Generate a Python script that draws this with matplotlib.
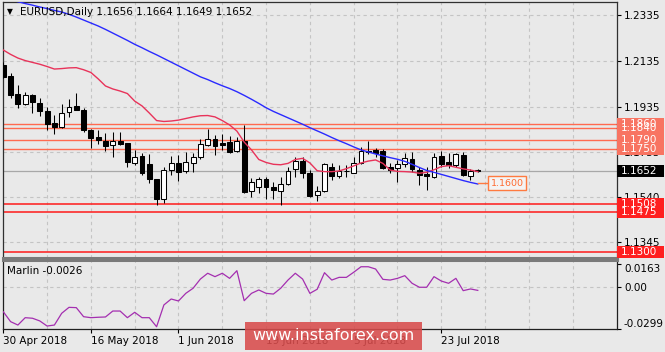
import numpy as np
import matplotlib
matplotlib.use("Agg")
import matplotlib.pyplot as plt
from matplotlib.patches import Rectangle
from matplotlib.transforms import blended_transform_factory

"""""""""""""""""""""""""""""""""""""""""""""""""""""""""
: DataSet
"""""""""""""""""""""""""""""""""""""""""""""""""""""""""
date_labels = ["30 Apr 2018", "16 May 2018", "1 Jun 2018", "19 Jun 2018", "5 Jul 2018", "23 Jul 2018"]
date_bars = [0, 12, 24, 36, 48, 60]

opens = [1.2117, 1.2069, 1.1989, 1.1946, 1.1986, 1.1952, 1.1916, 1.1862, 1.1845, 1.1910,
         1.1939, 1.1920, 1.1833, 1.1804, 1.1785, 1.1767, 1.1785, 1.1775, 1.1687, 1.1719,
         1.1684, 1.1618, 1.1531, 1.1658, 1.1690, 1.1655, 1.1690, 1.1714, 1.1767, 1.1792,
         1.1777, 1.1782, 1.1742, 1.1785, 1.1568, 1.1585, 1.1618, 1.1585, 1.1568, 1.1597,
         1.1661, 1.1699, 1.1644, 1.1549, 1.1566, 1.1670, 1.1632, 1.1654, 1.1646, 1.1687,
         1.1742, 1.1746, 1.1742, 1.1673, 1.1666, 1.1684, 1.1705, 1.1658, 1.1639, 1.1629,
         1.1721, 1.1692, 1.1680, 1.1724, 1.1633, 1.1656]
highs = [1.2131, 1.2082, 1.2029, 1.1997, 1.1989, 1.1974, 1.1935, 1.1898, 1.1945, 1.1968,
         1.1993, 1.1930, 1.1835, 1.1833, 1.1818, 1.1825, 1.1825, 1.1777, 1.1746, 1.1731,
         1.1728, 1.1620, 1.1673, 1.1719, 1.1724, 1.1738, 1.1731, 1.1792, 1.1836, 1.1811,
         1.1815, 1.1807, 1.1804, 1.1855, 1.1622, 1.1629, 1.1629, 1.1607, 1.1629, 1.1673,
         1.1716, 1.1714, 1.1658, 1.1588, 1.1690, 1.1687, 1.1680, 1.1680, 1.1716, 1.1757,
         1.1786, 1.1753, 1.1749, 1.1687, 1.1702, 1.1734, 1.1738, 1.1673, 1.1673, 1.1731,
         1.1742, 1.1734, 1.1734, 1.1738, 1.1661, 1.1664]
lows = [1.2060, 1.1973, 1.1930, 1.1942, 1.1908, 1.1894, 1.1833, 1.1815, 1.1840, 1.1891,
        1.1918, 1.1825, 1.1756, 1.1770, 1.1741, 1.1714, 1.1767, 1.1670, 1.1680, 1.1636,
        1.1603, 1.1505, 1.1513, 1.1636, 1.1611, 1.1646, 1.1648, 1.1705, 1.1765, 1.1724,
        1.1746, 1.1731, 1.1737, 1.1558, 1.1539, 1.1556, 1.1530, 1.1530, 1.1505, 1.1593,
        1.1629, 1.1622, 1.1539, 1.1524, 1.1563, 1.1614, 1.1622, 1.1629, 1.1644, 1.1685,
        1.1728, 1.1716, 1.1661, 1.1644, 1.1607, 1.1673, 1.1651, 1.1593, 1.1571, 1.1622,
        1.1673, 1.1666, 1.1673, 1.1632, 1.1614, 1.1649]
closes = [1.2066, 1.1986, 1.1945, 1.1986, 1.1956, 1.1916, 1.1859, 1.1847, 1.1908, 1.1935,
          1.1920, 1.1833, 1.1799, 1.1789, 1.1764, 1.1786, 1.1772, 1.1691, 1.1714, 1.1644,
          1.1618, 1.1531, 1.1658, 1.1690, 1.1651, 1.1694, 1.1716, 1.1772, 1.1792, 1.1763,
          1.1767, 1.1738, 1.1786, 1.1562, 1.1607, 1.1618, 1.1585, 1.1571, 1.1597, 1.1654,
          1.1699, 1.1644, 1.1545, 1.1566, 1.1683, 1.1632, 1.1654, 1.1655, 1.1687, 1.1742,
          1.1738, 1.1731, 1.1666, 1.1658, 1.1684, 1.1709, 1.1661, 1.1636, 1.1632, 1.1716,
          1.1684, 1.1680, 1.1727, 1.1636, 1.1654, 1.1652]

ma_red = [1.2182, 1.2163, 1.2147, 1.2136, 1.2128, 1.2120, 1.2110, 1.2099, 1.2101, 1.2104,
          1.2105, 1.2096, 1.2084, 1.2056, 1.2025, 1.2012, 1.2003, 1.1992, 1.1959, 1.1938,
          1.1907, 1.1874, 1.1870, 1.1872, 1.1876, 1.1883, 1.1890, 1.1895, 1.1896, 1.1890,
          1.1874, 1.1855, 1.1828, 1.1780, 1.1746, 1.1704, 1.1691, 1.1683, 1.1681, 1.1687,
          1.1704, 1.1709, 1.1689, 1.1655, 1.1651, 1.1651, 1.1654, 1.1664, 1.1676, 1.1689,
          1.1697, 1.1702, 1.1687, 1.1658, 1.1652, 1.1651, 1.1649, 1.1644, 1.1648, 1.1659,
          1.1673, 1.1677, 1.1670, 1.1663, 1.1658, 1.1651]
ma_blue = [1.2408, 1.2401, 1.2393, 1.2385, 1.2378, 1.2370, 1.2363, 1.2355, 1.2348, 1.2338,
           1.2326, 1.2313, 1.2300, 1.2287, 1.2272, 1.2256, 1.2240, 1.2224, 1.2207, 1.2192,
           1.2176, 1.2161, 1.2145, 1.2129, 1.2113, 1.2097, 1.2081, 1.2065, 1.2053, 1.2039,
           1.2026, 1.2014, 1.2000, 1.1984, 1.1967, 1.1949, 1.1930, 1.1914, 1.1900, 1.1886,
           1.1872, 1.1858, 1.1843, 1.1829, 1.1815, 1.1800, 1.1786, 1.1773, 1.1759, 1.1746,
           1.1737, 1.1728, 1.1720, 1.1712, 1.1705, 1.1696, 1.1683, 1.1669, 1.1656, 1.1648,
           1.1639, 1.1630, 1.1621, 1.1612, 1.1604, 1.1597]
marlin = [-0.0177, -0.0247, -0.0271, -0.0219, -0.0223, -0.0242, -0.0278, -0.0271, -0.0188, -0.0146,
          -0.0148, -0.0212, -0.0219, -0.0216, -0.0214, -0.0172, -0.0172, -0.0219, -0.0181, -0.0219,
          -0.0219, -0.0283, -0.0129, -0.0087, -0.0101, -0.0047, -0.0011, 0.0054, 0.0095, 0.0071,
          0.0095, 0.0059, 0.0113, -0.0099, -0.0047, -0.0023, -0.0047, -0.0052, -0.0011, 0.0047,
          0.0095, 0.0054, -0.0047, -0.0018, 0.0099, 0.0047, 0.0066, 0.0066, 0.0102, 0.0141,
          0.0141, 0.0125, 0.0052, 0.0047, 0.0059, 0.0078, 0.0024, -0.0004, -0.0004, 0.0071,
          0.0040, 0.0024, 0.0059, -0.0028, -0.0016, -0.0026]

levels_upper = [1.1750, 1.1840, 1.1790, 1.1860]
levels_lower = [1.1475, 1.1300, 1.1508]
price_ticks = [1.2335, 1.2135, 1.1935, 1.1735, 1.1540, 1.1345]
marlin_ticks = [0.0163, 0.0, -0.0299]
last_price = 1.1652
target_price = 1.1600

"""""""""""""""""""""""""""""""""""""""""""""""""""""""""
: Plottings
"""""""""""""""""""""""""""""""""""""""""""""""""""""""""
bg = "#e9e9e9"
fs = 7.5
W, H = 665.0, 352.0

fig = plt.figure(figsize=(6.65, 3.52), dpi=100, facecolor=bg)
ax = fig.add_axes([3 / W, 1 - 258 / H, 614 / W, 256 / H], facecolor=bg)
ax2 = fig.add_axes([3 / W, 1 - 329 / H, 614 / W, 69 / H], facecolor=bg)

n = len(opens)
x = np.arange(n)
o, h, l, c = map(np.array, (opens, highs, lows, closes))
up = c >= o

# candles
ax.vlines(x, l, h, color="black", lw=0.75, zorder=3)
body_lo = np.minimum(o, c)
body_h = np.maximum(np.abs(c - o), 0.00005)
ax.bar(x, body_h, bottom=body_lo, width=0.66, color=np.where(up, "white", "black"),
       edgecolor="black", lw=0.75, zorder=4)

ax.plot(x, ma_red, color="#e8335a", lw=1.0, zorder=5)
ax.plot(x, ma_blue, color="#2a2aff", lw=1.0, zorder=5)

# levels
for lv in levels_upper:
    ax.axhline(lv, color="#ff6a50", lw=1.0, zorder=1)
for lv in levels_lower:
    ax.axhline(lv, color="#ff1a1a", lw=1.1, zorder=1)
ax.axhline(last_price, color="#a8a8a8", lw=0.9, zorder=1)

# grid
for gx in range(6, 84, 6):
    ax.axvline(gx, color="#c4c4c4", lw=0.8, ls=(0, (3, 3)), zorder=0)
    ax2.axvline(gx, color="#c4c4c4", lw=0.8, ls=(0, (3, 3)), zorder=0)
for gy in price_ticks:
    ax.axhline(gy, color="#c4c4c4", lw=0.8, ls=(0, (3, 3)), zorder=0)
ax2.axhline(0.0, color="#c4c4c4", lw=0.8, ls=(0, (3, 3)), zorder=0)

px_per_price = 1 / 0.0004367
ax.set_xlim(-0.04, 84.07)
ax.set_ylim(1.2335 - 243 / px_per_price, 1.2335 + 13 / px_per_price)

ax.yaxis.tick_right()
ax.set_yticks(price_ticks)
ax.set_yticklabels(["%.4f" % t for t in price_ticks])
ax.tick_params(axis="y", length=3, width=0.8, pad=2, labelsize=fs, colors="black")
ax.set_xticks([])

# right side price boxes
tr = blended_transform_factory(ax.transAxes, ax.transData)
box_w = 47 / 614
box_h = 12 / px_per_price


def price_box(level, fc, tc="white"):
    ax.add_patch(Rectangle((1.0, level - box_h / 2), box_w, box_h, transform=tr,
                           fc=fc, ec="none", clip_on=False, zorder=6))
    ax.text(1.0 + 4 / 614, level, "%.4f" % level, transform=tr, color=tc, fontsize=fs,
            ha="left", va="center", clip_on=False, zorder=7)


for lv in levels_upper:
    price_box(lv, "#f87462")
for lv in levels_lower:
    price_box(lv, "#ff1f1f")
price_box(last_price, "black")

# target label
ax.plot([65, 66.6], [target_price, target_price], color="#ff7a40", lw=1.0, zorder=5)
ax.text(66.75, target_price, "%.4f" % target_price, fontsize=6.8, color="#ff6a30",
        ha="left", va="center", zorder=7,
        bbox=dict(boxstyle="square,pad=0.25", fc="#f4f4f4", ec="#ff7a40", lw=1.0))

for s in ["left", "right", "top"]:
    ax.spines[s].set_color("#303030")
    ax.spines[s].set_linewidth(0.9)
ax.spines["bottom"].set_color("#7a7a7a")
ax.spines["bottom"].set_linewidth(2.2)

# marlin panel
ax2.plot(x, marlin, color="#a42fb0", lw=0.9, zorder=3)
ax2.set_xlim(-0.04, 84.07)
ax2.set_ylim(-0.0299, (286.7 - 260) / 1415)
ax2.yaxis.tick_right()
ax2.set_yticks(marlin_ticks)
ax2.set_yticklabels(["0.0163", "0.00", "-0.0299"])
ax2.tick_params(axis="y", length=3, width=0.8, pad=2, labelsize=fs)
ticks2 = ax2.yaxis.get_major_ticks()
ticks2[0].label2.set_va("top")
ticks2[2].label2.set_va("bottom")

ax2.set_xticks(date_bars)
ax2.set_xticklabels(date_labels, ha="left")
ax2.tick_params(axis="x", length=3, width=0.8, pad=2, labelsize=fs)

ax2.spines["top"].set_color("#7a7a7a")
ax2.spines["top"].set_linewidth(2.2)
for s in ["left", "right", "bottom"]:
    ax2.spines[s].set_color("#202020")
    ax2.spines[s].set_linewidth(0.9)

# titles
fig.text(7 / W, 1 - 12 / H, "\u25bc", fontsize=5.5, va="center", ha="left")
fig.text(20 / W, 1 - 12 / H, "EURUSD,Daily 1.1656 1.1664 1.1649 1.1652",
         fontsize=fs, va="center", ha="left")
fig.text(7 / W, 1 - 271.5 / H, "Marlin -0.0026", fontsize=fs, va="center", ha="left")

# watermark
fig.add_artist(Rectangle((245 / W, 1 - 350 / H), 177 / W, 28.5 / H, transform=fig.transFigure,
                         fc="#d84c4c", ec="none", alpha=0.88, zorder=10))
fig.text(333 / W, 1 - 336 / H, "www.instaforex.com", fontsize=11.5, color="white",
         ha="center", va="center", zorder=11)

plt.savefig("out.png", dpi=100, facecolor=bg)
plt.close()
